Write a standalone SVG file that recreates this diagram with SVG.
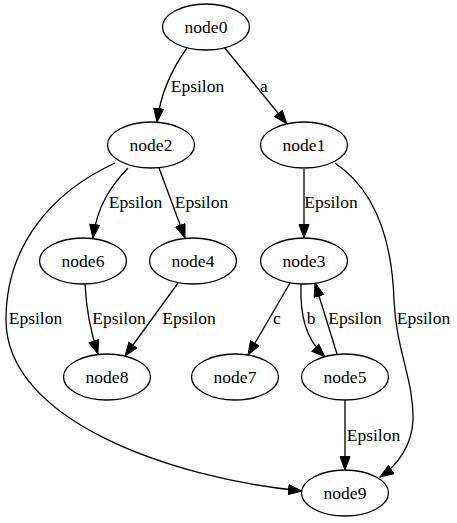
<svg xmlns="http://www.w3.org/2000/svg" width="457" height="523" viewBox="0 0 457 523">
  <style>
    .node ellipse { fill: #ffffff; stroke: #000000; stroke-width: 1.3; }
    text { font-family: 'Liberation Serif', 'Times New Roman', 'DejaVu Serif', serif; font-size: 17.5px; fill: #000000; text-anchor: middle; }
    .edge path { fill: none; stroke: #000000; stroke-width: 1.3; marker-end: url(#arrow); }
  </style>
  <defs>
    <marker id="arrow" markerUnits="userSpaceOnUse" markerWidth="15" markerHeight="12" refX="14" refY="5.5" orient="auto">
      <path d="M0.5,0.5 L14,5.5 L0.5,10.5 Z" fill="#000000" stroke="#000000" stroke-width="1"/>
    </marker>
  </defs>
  <rect width="457" height="523" fill="#ffffff"/>

  <!-- connectors -->
  <g id="edges">
    <g class="edge" id="e0_2"><path d="M187,48 C174,66 161,90 157,122"/><text x="197.5" y="92">Epsilon</text></g>
    <g class="edge" id="e0_1"><path d="M224,47 L287,124"/><text x="264" y="92">a</text></g>
    <g class="edge" id="e2_6"><path d="M128,168 C112,185 97,205 93,238"/><text x="135.5" y="208">Epsilon</text></g>
    <g class="edge" id="e2_4"><path d="M159,168 L185,238"/><text x="201.5" y="208">Epsilon</text></g>
    <g class="edge" id="e2_9"><path d="M115,163 C52,192 6,245 6,320 C6,420 170,478 302,491"/><text x="35.5" y="324">Epsilon</text></g>
    <g class="edge" id="e1_3"><path d="M304,169 L304,238"/><text x="331" y="208">Epsilon</text></g>
    <g class="edge" id="e1_9"><path d="M335,163 C375,190 392,240 394,300 C396,350 414,380 413,420 C412,445 398,465 380,477"/><text x="423.5" y="324">Epsilon</text></g>
    <g class="edge" id="e6_8"><path d="M85,284 C86,305 90,330 98,354"/><text x="119" y="324">Epsilon</text></g>
    <g class="edge" id="e4_8"><path d="M178,283 L125,356"/><text x="189" y="324">Epsilon</text></g>
    <g class="edge" id="e3_7"><path d="M290,283 L248,355"/><text x="277" y="324">c</text></g>
    <g class="edge" id="e3_5"><path d="M301,284 C300,315 305,338 325,357"/><text x="311" y="324">b</text></g>
    <g class="edge" id="e5_3"><path d="M337,354 L315,283"/><text x="355" y="324">Epsilon</text></g>
    <g class="edge" id="e5_9"><path d="M345,400 L345,470"/><text x="373.5" y="441">Epsilon</text></g>
  </g>

  <!-- nodes -->
  <g class="node" id="node0"><ellipse cx="206" cy="27" rx="43.5" ry="23"/><text x="206" y="33">node0</text></g>
  <g class="node" id="node2"><ellipse cx="151" cy="145" rx="43.5" ry="23"/><text x="151" y="151">node2</text></g>
  <g class="node" id="node1"><ellipse cx="304" cy="145" rx="43.5" ry="23"/><text x="304" y="151">node1</text></g>
  <g class="node" id="node6"><ellipse cx="83" cy="261" rx="43.5" ry="23"/><text x="83" y="267">node6</text></g>
  <g class="node" id="node4"><ellipse cx="193" cy="261" rx="43.5" ry="23"/><text x="193" y="267">node4</text></g>
  <g class="node" id="node3"><ellipse cx="304" cy="261" rx="43.5" ry="23"/><text x="304" y="267">node3</text></g>
  <g class="node" id="node8"><ellipse cx="107" cy="377" rx="43.5" ry="23"/><text x="107" y="383">node8</text></g>
  <g class="node" id="node7"><ellipse cx="235" cy="377" rx="43.5" ry="23"/><text x="235" y="383">node7</text></g>
  <g class="node" id="node5"><ellipse cx="345" cy="377" rx="43.5" ry="23"/><text x="345" y="383">node5</text></g>
  <g class="node" id="node9"><ellipse cx="345" cy="493" rx="43.5" ry="23"/><text x="345" y="499">node9</text></g>
</svg>
